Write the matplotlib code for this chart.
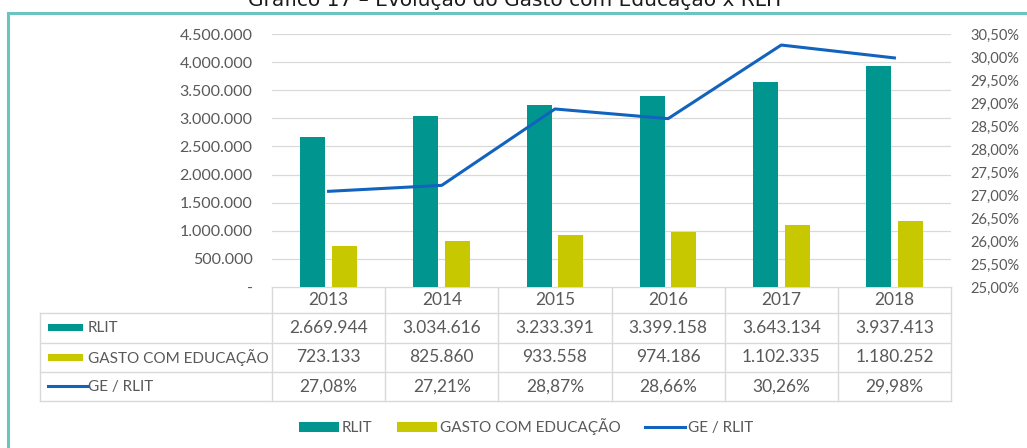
import matplotlib
matplotlib.use("Agg")
import matplotlib.pyplot as plt
from matplotlib.patches import Rectangle
from matplotlib.lines import Line2D
from matplotlib.ticker import FuncFormatter

years = ["2013", "2014", "2015", "2016", "2017", "2018"]
rlit = [2669944, 3034616, 3233391, 3399158, 3643134, 3937413]
gasto = [723133, 825860, 933558, 974186, 1102335, 1180252]
ge_rlit = [27.08, 27.21, 28.87, 28.66, 30.26, 29.98]

TEAL = "#00968F"
YELLOW = "#C8C800"
BLUE = "#1263BE"
GRID = "#D9D9D9"
TXT = "#595959"
FONT = "Lato"

def br_int(v):
    if v == 0:
        return "-"
    return f"{v:,.0f}".replace(",", ".")

def br_pct(v):
    return f"{v:.2f}".replace(".", ",") + "%"

W, H = 1027, 448
fig = plt.figure(figsize=(W / 100, H / 100), dpi=100)
plt.rcParams["font.family"] = [FONT, "DejaVu Sans"]

def fx(px): return px / W
def fy(py): return 1 - py / H

# main plot area (pixel box 272..951 x 34..287)
ax = fig.add_axes([fx(272), fy(287), fx(951) - fx(272), fy(34) - fy(287)])
x = list(range(len(years)))
bw = 0.22
ax.bar([i - 0.14 for i in x], rlit, width=bw, color=TEAL, zorder=3)
ax.bar([i + 0.14 for i in x], gasto, width=bw, color=YELLOW, zorder=3)
ax.set_xlim(-0.5, len(years) - 0.5)
ax.set_ylim(0, 4500000)
ax.set_yticks(range(0, 4500001, 500000))
ax.yaxis.set_major_formatter(FuncFormatter(lambda v, p: br_int(v)))
ax.grid(axis="y", color=GRID, lw=0.9, zorder=0)
ax.set_xticks([])
for s in ax.spines.values():
    s.set_visible(False)
ax.tick_params(axis="y", length=0, pad=14, labelsize=11.5, labelcolor=TXT)

ax2 = ax.twinx()
ax2.plot(x, ge_rlit, color=BLUE, lw=2.2, zorder=4)
ax2.set_ylim(25, 30.5)
ax2.set_yticks([25 + 0.5 * k for k in range(12)])
ax2.yaxis.set_major_formatter(FuncFormatter(lambda v, p: br_pct(v)))
for s in ax2.spines.values():
    s.set_visible(False)
ax2.tick_params(axis="y", length=0, pad=14, labelsize=10.5, labelcolor=TXT)

# overlay in pixel coords for the data table and frame
ov = fig.add_axes([0, 0, 1, 1], zorder=-1)
ov.set_xlim(0, W)
ov.set_ylim(H, 0)
ov.axis("off")

# outer frame
ov.plot([8, W], [13, 13], color="#6CC4C0", lw=2.2)
ov.plot([8, 8], [13, H], color="#6CC4C0", lw=2.2)

# title (cut off at top, as in the source)
fig.text(fx(516), fy(6), "Gráfico 17 – Evolução do Gasto com Educação x RLIT",
         ha="center", va="baseline", fontsize=14.5, family="DejaVu Sans", color="#1a1a1a")

col_x = [272 + 113.2 * k for k in range(len(years) + 1)]
row_y = [287, 313, 343, 372, 401]
tl = dict(color=GRID, lw=1.0)
for k, cx in enumerate(col_x):
    ov.plot([cx, cx], [row_y[0], row_y[-1]], **tl)
ov.plot([40, 40], [row_y[1], row_y[-1]], **tl)
ov.plot([col_x[0], col_x[-1]], [row_y[0], row_y[0]], **tl)
for ry in row_y[1:]:
    ov.plot([40, col_x[-1]], [ry, ry], **tl)

NUM = 12.5
for i, yv in enumerate(years):
    cx = (col_x[i] + col_x[i + 1]) / 2
    ov.text(cx, (row_y[0] + row_y[1]) / 2, yv, ha="center", va="center", fontsize=NUM, color=TXT)
    ov.text(cx, (row_y[1] + row_y[2]) / 2, br_int(rlit[i]), ha="center", va="center", fontsize=NUM, color=TXT)
    ov.text(cx, (row_y[2] + row_y[3]) / 2, br_int(gasto[i]), ha="center", va="center", fontsize=NUM, color=TXT)
    ov.text(cx, (row_y[3] + row_y[4]) / 2, br_pct(ge_rlit[i]), ha="center", va="center", fontsize=NUM, color=TXT)

labels = ["RLIT", "GASTO COM EDUCAÇÃO", "GE / RLIT"]
for r, lab in enumerate(labels):
    cy = (row_y[r + 1] + row_y[r + 2]) / 2
    if r < 2:
        ov.add_patch(Rectangle((48, cy - 3.5), 35, 7, color=[TEAL, YELLOW][r], lw=0))
    else:
        ov.plot([48, 88], [cy, cy], color=BLUE, lw=2.2)
    ov.text(88, cy, lab, ha="left", va="center", fontsize=11, color=TXT)

# legend
handles = [Rectangle((0, 0), 1, 1, color=TEAL, lw=0),
           Rectangle((0, 0), 1, 1, color=YELLOW, lw=0),
           Line2D([0], [0], color=BLUE, lw=2.2)]
fig.legend(handles, labels, loc="center", bbox_to_anchor=(fx(526), fy(427)), ncol=3,
           frameon=False, fontsize=11, handlelength=2.6, handleheight=0.55,
           handletextpad=0.2, columnspacing=1.6, labelcolor=TXT)

fig.savefig("out.png", dpi=100)
